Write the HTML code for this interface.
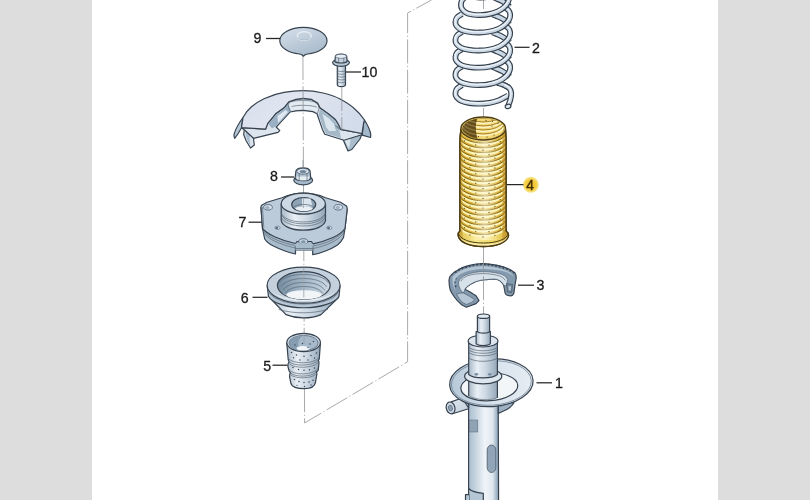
<!DOCTYPE html>
<html>
<head>
<meta charset="utf-8">
<title>Suspension strut exploded view</title>
<style>
html,body{margin:0;padding:0;background:#fff;}
body{width:810px;height:500px;overflow:hidden;position:relative;font-family:"Liberation Sans",sans-serif;}
.bar{position:absolute;top:0;height:500px;background:#dddddd;}
#bl{left:0;width:92px;}
#br{left:718px;width:92px;}
svg{position:absolute;left:0;top:0;}
text{font-family:"Liberation Sans",sans-serif;font-size:14.2px;fill:#1a1a1a;stroke:#1a1a1a;stroke-width:0.3px;}
.ol{stroke:#374350;stroke-width:1.2;stroke-linejoin:round;stroke-linecap:round;}
.thin{stroke:#5a6876;stroke-width:0.7;fill:none;stroke-linecap:round;}
.ax{stroke:#909398;stroke-width:0.8;fill:none;stroke-dasharray:24 2.5 1.2 2.5;}
.ld{stroke:#262626;stroke-width:1.25;fill:none;}
</style>
</head>
<body>
<div class="bar" id="bl"></div>
<div class="bar" id="br"></div>
<svg width="810" height="500" viewBox="0 0 810 500">
<defs>
<linearGradient id="cyl" x1="0" x2="1" y1="0" y2="0">
<stop offset="0" stop-color="#a9b9c8"/><stop offset="0.3" stop-color="#e9eff5"/><stop offset="0.6" stop-color="#cbd7e2"/><stop offset="1" stop-color="#94a7b8"/>
</linearGradient>
<linearGradient id="top" x1="0" x2="1" y1="0" y2="1">
<stop offset="0" stop-color="#e2e9f1"/><stop offset="1" stop-color="#bccad8"/>
</linearGradient>
<linearGradient id="ycyl" x1="0" x2="1" y1="0" y2="0">
<stop offset="0" stop-color="#e2c24e"/><stop offset="0.35" stop-color="#f8e88e"/><stop offset="0.7" stop-color="#f2da6a"/><stop offset="1" stop-color="#d8b640"/>
</linearGradient>
<radialGradient id="hl" cx="0.5" cy="0.5" r="0.5">
<stop offset="0" stop-color="#efbe2c"/><stop offset="0.6" stop-color="#f3cc42"/><stop offset="0.85" stop-color="#f8e07a"/><stop offset="1" stop-color="#fbeeb0" stop-opacity="0"/>
</radialGradient>
<filter id="soft"><feGaussianBlur stdDeviation="0.42"/></filter>
<linearGradient id="seatg" x1="0" x2="1" y1="0" y2="0">
<stop offset="0" stop-color="#b5c7d7"/><stop offset="0.45" stop-color="#d6e1eb"/><stop offset="1" stop-color="#e6edf3"/>
</linearGradient>
<linearGradient id="capg" x1="0.2" x2="0.8" y1="0" y2="1">
<stop offset="0" stop-color="#d3dde8"/><stop offset="0.5" stop-color="#bccad8"/><stop offset="1" stop-color="#a5b8c9"/>
</linearGradient>
<linearGradient id="boothl" x1="0" x2="1" y1="0" y2="0">
<stop offset="0" stop-color="#fffbe6" stop-opacity="0"/><stop offset="0.5" stop-color="#fffbe6" stop-opacity="0.6"/><stop offset="1" stop-color="#fffbe6" stop-opacity="0"/>
</linearGradient>
<linearGradient id="shg" x1="0" x2="1" y1="0" y2="0.3">
<stop offset="0" stop-color="#d6deeb"/><stop offset="0.5" stop-color="#e1e6f1"/><stop offset="1" stop-color="#d3dcea"/>
</linearGradient>
<linearGradient id="cyl2" x1="0" x2="1" y1="0" y2="0">
<stop offset="0" stop-color="#a9bdce"/><stop offset="0.18" stop-color="#bfcedc"/><stop offset="0.55" stop-color="#f0f4f8"/><stop offset="0.8" stop-color="#dfe7ef"/><stop offset="0.93" stop-color="#a3b7c8"/><stop offset="1" stop-color="#889eb2"/>
</linearGradient>
<linearGradient id="p6in" x1="0" x2="1" y1="0" y2="0">
<stop offset="0" stop-color="#748b9f"/><stop offset="0.45" stop-color="#9fb3c4"/><stop offset="1" stop-color="#cdd9e4"/>
</linearGradient>
</defs>
<g filter="url(#soft)">

<!-- PART 9 -->
<g id="p9">
<path class="ol" stroke-width="1.3" fill="url(#capg)" d="M279.800 40.800C279.800 33.400 290.400 27.400 303.400 27.400C316.400 27.400 327 33.400 327 40.800C327 47.500 318.500 53 307.500 54L305 54.800L303.400 56.300L301.800 54.800L299.500 54C288.500 53 279.800 47.500 279.800 40.800Z"/>
<ellipse cx="304.200" cy="36" rx="7" ry="4.300" fill="none" stroke="#e4ebf2" stroke-width="1.5"/>
<path d="M297.500 37.500C299 40.500 309 40.800 311 37.500" fill="none" stroke="#9db0c1" stroke-width="0.8"/>
</g>

<!-- PART 10 -->
<g id="p10">
<path class="ol" fill="url(#cyl)" d="M337.300 63V84.500C337.300 87.300 345.500 87.300 345.500 84.500V63Z"/>
<path class="thin" stroke="#66788a" d="M337.300 70.500C339.500 72 343.500 72 345.500 70.500M337.300 73.300C339.500 74.800 343.500 74.800 345.500 73.300M337.300 76.100C339.500 77.600 343.500 77.600 345.500 76.100M337.300 78.900C339.500 80.400 343.500 80.400 345.500 78.900M337.300 81.700C339.500 83.200 343.500 83.200 345.500 81.700"/>
<ellipse class="ol" cx="341" cy="62.600" rx="8.400" ry="3.700" fill="#b9c9d7"/>
<path class="ol" fill="#c5d2de" d="M334.900 61.500L335.400 56C337 53.600 345 53.600 346.700 56L347.100 61.500C345 63.500 337 63.500 334.900 61.500Z"/>
<ellipse cx="341" cy="56.300" rx="5.500" ry="2.100" fill="#e6edf3" stroke="#55657a" stroke-width="0.6"/>
<path class="thin" d="M338.500 58V62.600M343.800 58V62.600"/>
</g>

<!-- SHIELD -->
<g id="shield">
<!-- left claw -->
<path class="ol" fill="#dbe4ed" d="M244.500 128L243.700 134.500L246 140.500L250.500 148L254.300 145L253.500 138.300L256 131Z"/>
<path d="M246.500 129L245.500 134.500L247.500 140.500L250.500 146L249.500 138L251 130Z" fill="#a7bccc"/>
<!-- right claw -->
<path class="ol" fill="#a9bdcc" d="M338 133L343.500 140.500L348 151L351.800 149.500L360 139L362.200 133Z"/>
<path d="M340 134L344.500 140L348.500 148.500C351 143 351 138 349 134Z" fill="#d9e3ec"/>
<!-- wall ring -->
<path class="ol" fill="#dce4ee" d="M241.500 127.700L265.500 129.200L267.800 123.400L275.600 113.800L284 107.800L288.800 101.800L296 99.400L303.200 98.400L311.600 99.400L317.600 103L320 107.800L328.400 113.800L335.600 119.800L339.200 125.800L340.400 129.400L362 133.500L361 135L344 140.200L324.800 134.200L322.400 129.400L317 113.800L312.800 111.600L303.200 110.400L296 110.800L290 112L276.200 127L279.800 130.600L278 132.400L253.500 138.300L244.500 130Z"/>
<!-- wall shading -->
<path d="M268.500 124L276 114.500L284.500 108.500L288 104L291 110.500L277 125.500L272 128.500Z" fill="#9bb0c2"/>
<path d="M277.500 116L285.500 110L288 112L278 123Z" fill="#dfe8f0"/>
<path d="M320 109L328 114.500L335 120.500L338.500 126.500L339.500 131L341 138L326 133.500L323.500 128.500L318.500 114.500Z" fill="#a4b8c8"/>
<path d="M322.500 114L329 118.500L334 124L336 131L329 131L326 127Z" fill="#dbe5ee"/>
<path class="thin" stroke="#5d7186" d="M289 102.500C292 101 297 100.300 303.200 100.300C309 100.300 314 101 317 103.500C319.500 105.500 319.500 109 317.500 113M289 102.500C287.500 105 288.500 109 290.500 111.500"/>
<path d="M291 103.500C295 101.800 311 101.500 316 104.500C318 106.500 318 109 316.500 111.500L312.800 109.800L303.200 108.700L296 109L291.500 110C290 108 290 105.500 291 103.500Z" fill="#e3ebf2"/>
<path class="thin" stroke="#7e93a6" d="M292 106.500C296 104.800 311 104.800 316.500 107"/>
<!-- left fin -->
<path class="ol" fill="#b7c8d7" d="M243 117.500C239 123 235.500 129 234.200 134C233.800 135.500 234 137 234.700 138.300L238.500 133L241.500 127.700Z"/>
<!-- right fin -->
<path class="ol" fill="#a3b8c8" d="M364.500 120C367 124 369.500 129 370.500 133C370.900 134.500 370.900 136 370.500 137.500L362.200 135.200L363.700 122.500Z"/>
<!-- top surface -->
<path class="ol" stroke-width="1.35" fill="url(#shg)" d="M241.500 127.700L243 117.500C245 113.500 248 109.800 251.500 106.800C255 103.800 259 101 264 98.700C270 95.900 277 93.600 284 92.400C290 91.300 297 90.600 303.200 90.600C310 90.600 317 91.600 323 93C329 94.400 335 96.300 340.500 99.200C345 101.600 350 104.500 354 108.300C358 111.700 361.500 115.500 364.500 120L363.700 122.500L362 133.500L340.400 129.400L339.200 125.800L335.600 119.800L328.400 113.800L320 107.800L317.600 103L311.600 99.400L303.200 98.400L296 99.400L288.800 101.800L284 107.800L275.600 113.800L267.800 123.400L265.500 129.200Z"/>
<path class="thin" stroke="#7d8fa0" d="M335.500 125.500C337 128 339 129 341 128.500M337 126.500L343 129.500"/>
</g>

<!-- PART 3 ring -->
<g id="p3">
<path class="ol" stroke-width="1.3" fill="#8399ad" d="M449 280.200C449 278 449.500 276.500 450.800 275.400C453 273 455 271.500 458 270C461 268 464 266.800 467.600 265.800C472 264.500 477 263.700 482 263.600C487 263.600 492 264.200 496.400 265.200C501 266.200 505 267.300 508.400 268.800C511 270 513.500 271.500 515 273C516 274.500 516.300 276 516.200 277.800L515 285L513.800 293.400C513 295 512 295.800 510.800 295.800C509 295.800 507 295.500 506 294.600C505 293.500 504.800 292.500 504.800 291L503.600 285C502.500 283 501.500 281.800 500 280.800C498 279.600 496 279.100 494 279C491.500 279 489 279.300 486.800 279.600C484.500 279.800 482.500 279.900 480.800 280.200C478 280.800 475.500 281.600 473.600 282.600C471.500 283.600 469.500 284.800 467.600 286.200C466.500 287 465.700 287.800 465.200 288.600L465.800 289.800C468 290.800 470.500 292 472.400 293.400L476 295.800L479 300.600L476 303.600L466.400 307.200L461.600 304.800C459 302.500 456.500 300 454.400 297C452.500 294.500 451 292 450.200 289.800C449.500 287 449 283.500 449 280.200Z"/>
<path d="M455 272.200C459 269.500 463 267.800 467.600 266.500C472 265.200 477 264.400 482 264.300C487 264.300 492 264.900 496.400 265.900C501 266.900 505 268 508.400 269.500C510.500 270.500 512.500 271.700 514 273" fill="none" stroke="#374350" stroke-width="2" stroke-dasharray="1.6 2.2"/>
<path d="M456 287C454 283 454.500 279 457.500 276.500" fill="none" stroke="#374350" stroke-width="1.8" stroke-dasharray="1.5 2.5"/>
<!-- top face lighter band -->
<path d="M452.500 277.500C455 273.500 460 270.500 467.600 268.300C472 267 477 266.300 482 266.200C487 266.200 492 266.700 496.400 267.700C501 268.700 505 270 508.400 271.500C511 272.800 513 274.500 513.500 276.500C511 273.500 506 271.800 500 270.500C494 269.300 488 268.800 482 269C476 269.200 470 270.200 465 272C459 274.200 455.500 277.500 454.500 281.500C454 284.500 454.500 288 456 291.500C453.500 288 452 282.500 452.500 277.500Z" fill="#b4c5d4"/>
<!-- inner wall -->
<path d="M458.500 283C459 279.500 462 276.500 467 274.500C472 272.600 477 271.800 482 271.700C488 271.600 494 272.200 499 273.500C503 274.600 506.500 276.500 507.500 279.500L506.500 286L503.600 285C502.500 283 501.500 281.800 500 280.800C498 279.600 496 279.100 494 279C491.500 279 489 279.300 486.800 279.600C484.500 279.800 482.500 279.900 480.800 280.200C478 280.800 475.500 281.600 473.600 282.600C471.500 283.600 469.500 284.800 467.600 286.200C466.500 287 465.700 287.800 465.200 288.600L463.500 293C460.500 290.500 458.500 286.500 458.500 283Z" fill="#d6e1ea" stroke="#4b5b6b" stroke-width="0.6"/>
<path class="thin" stroke="#52647a" d="M461 281C462 278.500 465 276.500 469 275.300C473 274.200 477.500 273.700 482 273.600C488 273.600 494 274.300 498.500 275.600C501.500 276.500 504 278 505 280"/>
<!-- left arm end -->
<path d="M463.500 293L470 296.500L474.500 299.500L472.500 302L466.500 304.500L462.500 302.500C460 300 458 297 456.500 294C458 293.500 461 293 463.500 293Z" fill="#b6c6d4" stroke="#445464" stroke-width="0.6"/>
<!-- right arm end detail -->
<path d="M506.500 283.500L512.500 284.500L511.800 292.500L507.500 292Z" fill="#71879b" stroke="#3f4b58" stroke-width="0.6"/>
<path d="M508.500 286L511 286.400L510.700 290.500L508.700 290.300Z" fill="#b9c9d6"/>
</g>

<!-- AXES -->
<g id="axes">
<path class="ax" d="M302.900 56L304.600 423L407.600 361.800V13L431.500 0"/>
<path class="ax" d="M341.800 87V131"/>
<path class="ax" d="M483.500 0V9M483.500 108V119M483.500 246V316"/>
</g>

<!-- PART 8 nut -->
<g id="p8">
<ellipse class="ol" stroke-width="1.4" cx="303.200" cy="180.300" rx="9.400" ry="4.500" fill="#a6b9ca"/>
<path class="ol" stroke-width="1.4" fill="#b1c2d1" d="M295 178.500L296 170.800C297.500 166.800 308.500 166.800 310 170.800L310.800 178.500C308 181.300 298 181.300 295 178.500Z"/>
<path d="M296.500 179C300 181 306.500 181 309.500 179L309 176.500H297Z" fill="#e6edf3"/>
<ellipse cx="303" cy="171.300" rx="6.200" ry="2.900" fill="#dce5ee" stroke="#46566a" stroke-width="0.8"/>
<ellipse cx="303" cy="171.600" rx="3.400" ry="1.600" fill="#71879b"/>
<path class="thin" stroke="#46566a" d="M299.200 173.800V179.500M307 173.800V179.500"/>
</g>

<!-- PART 7 mount -->
<g id="p7">
<!-- lower ring / silhouette -->
<path class="ol" stroke-width="1.3" fill="#a9bccc" d="M261 207.500L262.500 228.500L264.700 239C267 242.500 270.500 244.800 274.500 246.500C278 248.300 281.500 249.800 285 251C288.500 252.200 292 253.200 295.500 254V246.500H312.700V254.700C317 254 321.500 252.700 325.500 251C330 249.300 334 247.300 337.500 245C340 243 342 240.500 343.500 237.500L345 228.500L347.200 209Z"/>
<path class="thin" stroke="#dfe8f0" stroke-width="1.1" d="M263.800 233C266.500 236.500 270.500 239.200 275 241.300C281 244 288 246.300 295.300 248M313 248.500C319 247.500 326 245.300 332 242.300C337 239.800 341.500 236.500 344 232.500"/>
<path class="thin" stroke="#46566a" stroke-width="0.9" d="M263.300 230.800C266 234.300 270 237 274.500 239C280.500 241.800 288 244 295.300 245.500M313 246C319 245 326 243 332 240C337 237.500 341.500 234 344.500 230.300"/>
<!-- top plate -->
<path class="ol" stroke-width="1.3" fill="#bccbda" d="M261 207.500C261 206.300 261.300 205.600 261.700 205.200L267 202.200L282 197.700C290 194.500 297 193.200 303.300 193.200C310 193.200 318 194.500 325.500 197.700L340.500 202.200L346.500 206C347 207 347.200 208 347.200 209L345 228.500C342.500 232 338 235.200 333 237.500C327 240.200 320 242.500 313 243.800L311.500 241.500H297L295.500 243.500C288 242 281 239.800 274.500 236.800C270 234.700 265.500 232 262.500 228.500Z"/>
<path class="thin" stroke="#e1e9f0" d="M262.500 207.500L263.800 227.500"/>
<!-- holes -->
<ellipse cx="268" cy="207.300" rx="4.300" ry="2.700" fill="#d9e3ec" stroke="#46566a" stroke-width="0.8"/>
<ellipse cx="267.300" cy="207.600" rx="2.300" ry="1.500" fill="#9cb0c2"/>
<ellipse cx="338.300" cy="207.300" rx="4.300" ry="2.700" fill="#d9e3ec" stroke="#46566a" stroke-width="0.8"/>
<ellipse cx="337.800" cy="207.600" rx="2.300" ry="1.500" fill="#9cb0c2"/>
<ellipse cx="277.500" cy="227.800" rx="2.600" ry="1.700" fill="#dbe5ee" stroke="#55677a" stroke-width="0.6"/><ellipse cx="276.800" cy="227.900" rx="1.500" ry="1.100" fill="#556b80"/>
<ellipse cx="329.300" cy="227.800" rx="2.600" ry="1.700" fill="#dbe5ee" stroke="#55677a" stroke-width="0.6"/><ellipse cx="328.600" cy="227.900" rx="1.500" ry="1.100" fill="#556b80"/>
<ellipse cx="303.300" cy="241.500" rx="4.400" ry="2.800" fill="#c9d6e2" stroke="#46566a" stroke-width="0.8"/>
<ellipse cx="303.300" cy="241.800" rx="2.400" ry="1.500" fill="#8097ab"/>
<path d="M295.500 243.500H312.700V250.500H295.500Z" fill="#a9bccc"/><path class="thin" stroke="#46566a" stroke-width="0.8" d="M295.500 248.500H312.700M295.500 250.300H312.700"/>
<!-- hub -->
<path class="ol" stroke-width="1.2" fill="url(#cyl)" d="M281.200 204V220.500C282 226 291 230.200 303.300 230.200C316 230.200 324.500 226 325.500 220.500V204Z"/>
<path class="thin" stroke="#46566a" stroke-width="0.9" d="M281.200 213C283 218.500 292 222 303.300 222C315 222 323.500 218.500 325.500 213M281.200 217C283 222.500 292 226 303.300 226C315 226 323.500 222.500 325.500 217"/>
<path class="thin" stroke="#e6edf3" stroke-width="1" d="M281.700 214.800C283.500 220.200 292 223.800 303.300 223.800C315 223.800 323 220.200 325 214.800"/>
<ellipse class="ol" stroke-width="1.2" cx="303.300" cy="203.700" rx="22.100" ry="10.500" fill="#ccd8e4"/>
<ellipse class="ol" cx="303.700" cy="204.500" rx="12" ry="7" fill="#8ea3b6"/>
<path d="M295 208.500C298 205.500 310 205.500 313 208.500C310 212 298 212 295 208.500Z" fill="#e9eff5"/>
<path d="M302 198.500H310.500L312.500 206.500H302Z" fill="#dce5ee"/>
<path class="thin" stroke="#61758a" d="M293.500 207C296 203.500 311 203.500 314 207"/>
</g>

<!-- PART 6 bearing -->
<g id="p6">
<path class="ol" fill="url(#cyl)" d="M269.500 297.500L286 314.600C292 317 298 317.900 303.200 317.900C310 317.900 316 316.800 321 314.600L338.500 297.500Z"/>
<path class="thin" stroke="#e8eef4" stroke-width="1.2" d="M279 309.500C287 312 296 312.800 303.200 312.800C311 312.800 320 311.800 327.500 309.500"/>
<path class="ol" fill="#b6c6d5" d="M267.200 286L268.500 296.500A36.500 15.200 0 0 0 339 296.500L340 286Z"/>
<path class="thin" stroke="#e6edf3" stroke-width="1.1" d="M269.500 293.500A36 15.500 0 0 0 338 293.500"/>
<ellipse class="ol" cx="303.600" cy="285.200" rx="36.500" ry="18" fill="#c4d1dd"/>
<path d="M271 291C278 298.500 291 301.200 303.600 301.200C316 301.200 330 298.500 336.500 291C331 297 316 299.500 303.600 299.500C291 299.500 277 297 271 291Z" fill="#e6edf3"/>
<ellipse class="ol" cx="303.800" cy="285.500" rx="26.400" ry="13.800" fill="url(#p6in)"/>
<path class="thin" stroke="#5f7388" d="M279.500 282C283 277 293 274.500 303.800 274.500C315 274.500 325 277 328.500 283M281.500 286C285 281 294 278.500 303.800 278.500C314 278.500 323 281 326.500 286.500M283.500 289.500C287 284.500 295 282.500 303.800 282.500C313 282.500 321 284.500 324.500 290M285.500 293C288 288.500 296 286.500 303.800 286.500C312 286.500 319.500 288.500 322.500 293"/>
<path d="M279 289C283 296 294 299 303.800 299C314 299 325 296 329 289C325 300 283 300 279 289Z" fill="#dde6ee"/>
<ellipse cx="304" cy="294.800" rx="17.500" ry="4.600" fill="#f1f5f8"/>
</g>

<!-- PART 5 bump stop -->
<g id="p5">
<path class="ol" stroke-width="1.3" fill="url(#cyl)" d="M286.800 343L288.200 359.500C288.300 360.500 288.700 361.200 289.300 361.800C288 362.800 287.700 364.500 287.900 366.300L289 370.500C289.200 371.500 289.800 372.300 290.500 372.800C289.700 373.800 289.500 375.200 289.600 376.800L291 383.800C292 386.800 297.500 388.700 304.300 388.700C311 388.700 314.800 386.500 315.500 382.400L316.900 374C316.900 373.200 316.800 372.500 316.300 371.900C317.500 371.300 318.100 370.500 318.300 369.800L319 362.800C319 361.800 318.800 361 318.300 360.300C319 359.800 319.300 359.200 319.300 358.600L320.400 343Z"/>
<path class="thin" stroke="#36434f" stroke-width="1.4" d="M289.300 361.800C293 366.500 313 366.500 318.300 360.300M290.500 372.800C294 377.500 312 377.500 316.300 371.900"/>
<path class="thin" stroke="#e8eef4" stroke-width="1.4" d="M289.800 364.300C294 368.500 313 368.500 317.700 363M291 375C295 379 311.500 379 316 374.200"/>
<path class="thin" stroke="#8da1b4" d="M288.300 358.500C293 364.500 314 364.500 319.300 357.500M289.200 370C294 375.500 312 375.500 317.800 369"/>
<ellipse class="ol" stroke-width="1.3" cx="303.600" cy="342.500" rx="16.800" ry="9.200" fill="#cdd9e4"/>
<ellipse cx="303.600" cy="343" rx="14.600" ry="7.600" fill="#a7bacb" stroke="#4b5967" stroke-width="0.7"/>
<path d="M289.500 343C289.500 339 295.500 335.700 303 335.500C299 338 297.500 342 298.500 347.500C299 349 300 350 301 350.500C294 350 289.500 347 289.500 343Z" fill="#869cb0"/>
<ellipse cx="303" cy="348.300" rx="6.500" ry="2.300" fill="#f2f6f9"/>
<g fill="#3a4754">
<circle cx="302.500" cy="343.500" r="0.750"/><circle cx="310" cy="344" r="0.750"/><circle cx="313.500" cy="341.500" r="0.750"/><circle cx="308" cy="347.500" r="0.650"/><circle cx="295" cy="345" r="0.650"/>
<circle cx="291.500" cy="352.500" r="0.750"/><circle cx="296.500" cy="355" r="0.750"/><circle cx="304" cy="356.300" r="0.750"/><circle cx="311" cy="355.500" r="0.750"/><circle cx="316.500" cy="353" r="0.750"/>
<circle cx="293.500" cy="357.800" r="0.700"/><circle cx="300" cy="360" r="0.700"/><circle cx="308" cy="360" r="0.700"/><circle cx="314.500" cy="358" r="0.700"/>
<circle cx="293" cy="367.500" r="0.750"/><circle cx="298.500" cy="369.500" r="0.750"/><circle cx="304" cy="370.300" r="0.750"/><circle cx="309.500" cy="369.700" r="0.750"/><circle cx="314.500" cy="368" r="0.750"/>
<circle cx="294.500" cy="379.500" r="0.750"/><circle cx="299" cy="381.500" r="0.750"/><circle cx="304" cy="382.500" r="0.750"/><circle cx="309" cy="382" r="0.750"/><circle cx="313" cy="380.300" r="0.750"/>
<circle cx="297" cy="385.300" r="0.650"/><circle cx="304.500" cy="386.500" r="0.650"/><circle cx="311" cy="385" r="0.650"/>
</g>
</g>

<!-- PART 2 spring -->
<g id="p2">
<path d="M497.0 82.8C497.5 82.9 498.8 83.2 500.0 83.6C501.2 84.0 502.5 84.3 504.0 85.0C505.5 85.7 508.2 87.3 509.0 87.8" fill="none" stroke="#34404d" stroke-width="5.8" stroke-linecap="butt" stroke-linejoin="round"/><path d="M497.0 82.8C497.5 82.9 498.8 83.2 500.0 83.6C501.2 84.0 502.5 84.3 504.0 85.0C505.5 85.7 508.2 87.3 509.0 87.8" fill="none" stroke="#c9d6e3" stroke-width="3.5" stroke-linecap="butt" stroke-linejoin="round"/>
<path d="M492.4 -20.6C493.1 -20.3 494.7 -19.6 496.4 -18.9C498.1 -18.2 500.5 -17.3 502.4 -16.2C504.3 -15.1 506.6 -13.3 507.8 -12.4C509.0 -11.5 509.4 -10.9 509.7 -10.6" fill="none" stroke="#34404d" stroke-width="5.8" stroke-linecap="butt" stroke-linejoin="round"/><path d="M492.4 -20.6C493.1 -20.3 494.7 -19.6 496.4 -18.9C498.1 -18.2 500.5 -17.3 502.4 -16.2C504.3 -15.1 506.6 -13.3 507.8 -12.4C509.0 -11.5 509.4 -10.9 509.7 -10.6" fill="none" stroke="#c9d6e3" stroke-width="3.5" stroke-linecap="butt" stroke-linejoin="round"/>
<path d="M492.4 -3.1C493.1 -2.8 494.7 -2.1 496.4 -1.4C498.1 -0.7 500.5 0.2 502.4 1.3C504.3 2.4 506.6 4.2 507.8 5.1C509.0 6.0 509.4 6.6 509.7 6.9" fill="none" stroke="#34404d" stroke-width="5.8" stroke-linecap="butt" stroke-linejoin="round"/><path d="M492.4 -3.1C493.1 -2.8 494.7 -2.1 496.4 -1.4C498.1 -0.7 500.5 0.2 502.4 1.3C504.3 2.4 506.6 4.2 507.8 5.1C509.0 6.0 509.4 6.6 509.7 6.9" fill="none" stroke="#c9d6e3" stroke-width="3.5" stroke-linecap="butt" stroke-linejoin="round"/>
<path d="M492.4 14.3C493.1 14.6 494.7 15.3 496.4 16.0C498.1 16.7 500.5 17.6 502.4 18.7C504.3 19.8 506.6 21.6 507.8 22.5C509.0 23.4 509.4 24.0 509.7 24.3" fill="none" stroke="#34404d" stroke-width="5.8" stroke-linecap="butt" stroke-linejoin="round"/><path d="M492.4 14.3C493.1 14.6 494.7 15.3 496.4 16.0C498.1 16.7 500.5 17.6 502.4 18.7C504.3 19.8 506.6 21.6 507.8 22.5C509.0 23.4 509.4 24.0 509.7 24.3" fill="none" stroke="#c9d6e3" stroke-width="3.5" stroke-linecap="butt" stroke-linejoin="round"/>
<path d="M492.4 32.3C493.1 32.6 494.7 33.3 496.4 34.0C498.1 34.7 500.5 35.6 502.4 36.7C504.3 37.8 506.6 39.6 507.8 40.5C509.0 41.4 509.4 42.0 509.7 42.3" fill="none" stroke="#34404d" stroke-width="5.8" stroke-linecap="butt" stroke-linejoin="round"/><path d="M492.4 32.3C493.1 32.6 494.7 33.3 496.4 34.0C498.1 34.7 500.5 35.6 502.4 36.7C504.3 37.8 506.6 39.6 507.8 40.5C509.0 41.4 509.4 42.0 509.7 42.3" fill="none" stroke="#c9d6e3" stroke-width="3.5" stroke-linecap="butt" stroke-linejoin="round"/>
<path d="M492.4 49.5C493.1 49.8 494.7 50.5 496.4 51.2C498.1 51.9 500.5 52.8 502.4 53.9C504.3 55.0 506.6 56.8 507.8 57.7C509.0 58.6 509.4 59.2 509.7 59.5" fill="none" stroke="#34404d" stroke-width="5.8" stroke-linecap="butt" stroke-linejoin="round"/><path d="M492.4 49.5C493.1 49.8 494.7 50.5 496.4 51.2C498.1 51.9 500.5 52.8 502.4 53.9C504.3 55.0 506.6 56.8 507.8 57.7C509.0 58.6 509.4 59.2 509.7 59.5" fill="none" stroke="#c9d6e3" stroke-width="3.5" stroke-linecap="butt" stroke-linejoin="round"/>
<path d="M492.4 66.9C493.1 67.2 494.7 67.9 496.4 68.6C498.1 69.3 500.5 70.2 502.4 71.3C504.3 72.4 506.6 74.2 507.8 75.1C509.0 76.0 509.4 76.6 509.7 76.9" fill="none" stroke="#34404d" stroke-width="5.8" stroke-linecap="butt" stroke-linejoin="round"/><path d="M492.4 66.9C493.1 67.2 494.7 67.9 496.4 68.6C498.1 69.3 500.5 70.2 502.4 71.3C504.3 72.4 506.6 74.2 507.8 75.1C509.0 76.0 509.4 76.6 509.7 76.9" fill="none" stroke="#c9d6e3" stroke-width="3.5" stroke-linecap="butt" stroke-linejoin="round"/>
<path d="M462.0 85.2C461.2 85.8 458.1 87.4 457.0 88.7C455.9 90.0 455.5 91.7 455.4 93.1C455.3 94.5 455.6 96.0 456.6 97.3C457.6 98.6 459.3 100.0 461.4 101.0C463.5 102.0 466.4 102.6 469.4 103.1C472.4 103.5 476.1 103.7 479.4 103.7C482.7 103.7 486.2 103.4 489.4 102.9C492.6 102.4 495.8 101.4 498.4 100.5C501.0 99.6 503.3 98.1 504.9 97.3C506.5 96.5 507.4 95.8 507.9 95.5" fill="none" stroke="#34404d" stroke-width="5.8" stroke-linecap="butt" stroke-linejoin="round"/><path d="M462.0 85.2C461.2 85.8 458.1 87.4 457.0 88.7C455.9 90.0 455.5 91.7 455.4 93.1C455.3 94.5 455.6 96.0 456.6 97.3C457.6 98.6 459.3 100.0 461.4 101.0C463.5 102.0 466.4 102.6 469.4 103.1C472.4 103.5 476.1 103.7 479.4 103.7C482.7 103.7 486.2 103.4 489.4 102.9C492.6 102.4 495.8 101.4 498.4 100.5C501.0 99.6 503.3 98.1 504.9 97.3C506.5 96.5 507.4 95.8 507.9 95.5" fill="none" stroke="#c9d6e3" stroke-width="3.5" stroke-linecap="butt" stroke-linejoin="round"/><path d="M462.0 85.2C461.2 85.8 458.1 87.4 457.0 88.7C455.9 90.0 455.5 91.7 455.4 93.1C455.3 94.5 455.6 96.0 456.6 97.3C457.6 98.6 459.3 100.0 461.4 101.0C463.5 102.0 466.4 102.6 469.4 103.1C472.4 103.5 476.1 103.7 479.4 103.7C482.7 103.7 486.2 103.4 489.4 102.9C492.6 102.4 495.8 101.4 498.4 100.5C501.0 99.6 503.3 98.1 504.9 97.3C506.5 96.5 507.4 95.8 507.9 95.5" fill="none" stroke="#edf2f7" stroke-width="1.3" stroke-linecap="butt" transform="translate(-0.3 -0.7)"/>
<path d="M462.0 66.6C461.2 67.2 458.1 68.8 457.0 70.1C455.9 71.4 455.5 73.1 455.4 74.5C455.3 75.9 455.6 77.4 456.6 78.7C457.6 80.0 459.3 81.4 461.4 82.4C463.5 83.4 466.4 84.0 469.4 84.5C472.4 85.0 476.1 85.2 479.4 85.1C482.7 85.0 486.2 84.7 489.4 84.1C492.6 83.5 495.8 82.5 498.4 81.4C501.0 80.3 503.1 78.8 504.9 77.3C506.7 75.8 508.1 74.0 509.0 72.3C509.9 70.6 510.3 68.7 510.2 67.1C510.1 65.5 509.6 64.0 508.4 62.7C507.2 61.4 503.9 59.7 503.0 59.1" fill="none" stroke="#34404d" stroke-width="5.8" stroke-linecap="butt" stroke-linejoin="round"/><path d="M462.0 66.6C461.2 67.2 458.1 68.8 457.0 70.1C455.9 71.4 455.5 73.1 455.4 74.5C455.3 75.9 455.6 77.4 456.6 78.7C457.6 80.0 459.3 81.4 461.4 82.4C463.5 83.4 466.4 84.0 469.4 84.5C472.4 85.0 476.1 85.2 479.4 85.1C482.7 85.0 486.2 84.7 489.4 84.1C492.6 83.5 495.8 82.5 498.4 81.4C501.0 80.3 503.1 78.8 504.9 77.3C506.7 75.8 508.1 74.0 509.0 72.3C509.9 70.6 510.3 68.7 510.2 67.1C510.1 65.5 509.6 64.0 508.4 62.7C507.2 61.4 503.9 59.7 503.0 59.1" fill="none" stroke="#c9d6e3" stroke-width="3.5" stroke-linecap="butt" stroke-linejoin="round"/><path d="M462.0 66.6C461.2 67.2 458.1 68.8 457.0 70.1C455.9 71.4 455.5 73.1 455.4 74.5C455.3 75.9 455.6 77.4 456.6 78.7C457.6 80.0 459.3 81.4 461.4 82.4C463.5 83.4 466.4 84.0 469.4 84.5C472.4 85.0 476.1 85.2 479.4 85.1C482.7 85.0 486.2 84.7 489.4 84.1C492.6 83.5 495.8 82.5 498.4 81.4C501.0 80.3 503.1 78.8 504.9 77.3C506.7 75.8 508.1 74.0 509.0 72.3C509.9 70.6 510.3 68.7 510.2 67.1C510.1 65.5 509.6 64.0 508.4 62.7C507.2 61.4 503.9 59.7 503.0 59.1" fill="none" stroke="#edf2f7" stroke-width="1.3" stroke-linecap="butt" transform="translate(-0.3 -0.7)"/>
<path d="M462.0 49.2C461.2 49.8 458.1 51.4 457.0 52.7C455.9 54.0 455.5 55.7 455.4 57.1C455.3 58.5 455.6 60.0 456.6 61.3C457.6 62.6 459.3 64.0 461.4 65.0C463.5 66.0 466.4 66.6 469.4 67.1C472.4 67.5 476.1 67.8 479.4 67.7C482.7 67.6 486.2 67.3 489.4 66.7C492.6 66.1 495.8 65.1 498.4 64.0C501.0 62.9 503.1 61.4 504.9 59.9C506.7 58.4 508.1 56.6 509.0 54.9C509.9 53.2 510.3 51.3 510.2 49.7C510.1 48.1 509.6 46.6 508.4 45.3C507.2 44.0 503.9 42.3 503.0 41.7" fill="none" stroke="#34404d" stroke-width="5.8" stroke-linecap="butt" stroke-linejoin="round"/><path d="M462.0 49.2C461.2 49.8 458.1 51.4 457.0 52.7C455.9 54.0 455.5 55.7 455.4 57.1C455.3 58.5 455.6 60.0 456.6 61.3C457.6 62.6 459.3 64.0 461.4 65.0C463.5 66.0 466.4 66.6 469.4 67.1C472.4 67.5 476.1 67.8 479.4 67.7C482.7 67.6 486.2 67.3 489.4 66.7C492.6 66.1 495.8 65.1 498.4 64.0C501.0 62.9 503.1 61.4 504.9 59.9C506.7 58.4 508.1 56.6 509.0 54.9C509.9 53.2 510.3 51.3 510.2 49.7C510.1 48.1 509.6 46.6 508.4 45.3C507.2 44.0 503.9 42.3 503.0 41.7" fill="none" stroke="#c9d6e3" stroke-width="3.5" stroke-linecap="butt" stroke-linejoin="round"/><path d="M462.0 49.2C461.2 49.8 458.1 51.4 457.0 52.7C455.9 54.0 455.5 55.7 455.4 57.1C455.3 58.5 455.6 60.0 456.6 61.3C457.6 62.6 459.3 64.0 461.4 65.0C463.5 66.0 466.4 66.6 469.4 67.1C472.4 67.5 476.1 67.8 479.4 67.7C482.7 67.6 486.2 67.3 489.4 66.7C492.6 66.1 495.8 65.1 498.4 64.0C501.0 62.9 503.1 61.4 504.9 59.9C506.7 58.4 508.1 56.6 509.0 54.9C509.9 53.2 510.3 51.3 510.2 49.7C510.1 48.1 509.6 46.6 508.4 45.3C507.2 44.0 503.9 42.3 503.0 41.7" fill="none" stroke="#edf2f7" stroke-width="1.3" stroke-linecap="butt" transform="translate(-0.3 -0.7)"/>
<path d="M462.0 32.0C461.2 32.6 458.1 34.2 457.0 35.5C455.9 36.8 455.5 38.5 455.4 39.9C455.3 41.3 455.6 42.8 456.6 44.1C457.6 45.4 459.3 46.8 461.4 47.8C463.5 48.8 466.4 49.4 469.4 49.9C472.4 50.4 476.1 50.6 479.4 50.5C482.7 50.4 486.2 50.1 489.4 49.5C492.6 48.9 495.8 47.9 498.4 46.8C501.0 45.7 503.1 44.2 504.9 42.7C506.7 41.2 508.1 39.4 509.0 37.7C509.9 36.0 510.3 34.1 510.2 32.5C510.1 30.9 509.6 29.4 508.4 28.1C507.2 26.8 503.9 25.1 503.0 24.5" fill="none" stroke="#34404d" stroke-width="5.8" stroke-linecap="butt" stroke-linejoin="round"/><path d="M462.0 32.0C461.2 32.6 458.1 34.2 457.0 35.5C455.9 36.8 455.5 38.5 455.4 39.9C455.3 41.3 455.6 42.8 456.6 44.1C457.6 45.4 459.3 46.8 461.4 47.8C463.5 48.8 466.4 49.4 469.4 49.9C472.4 50.4 476.1 50.6 479.4 50.5C482.7 50.4 486.2 50.1 489.4 49.5C492.6 48.9 495.8 47.9 498.4 46.8C501.0 45.7 503.1 44.2 504.9 42.7C506.7 41.2 508.1 39.4 509.0 37.7C509.9 36.0 510.3 34.1 510.2 32.5C510.1 30.9 509.6 29.4 508.4 28.1C507.2 26.8 503.9 25.1 503.0 24.5" fill="none" stroke="#c9d6e3" stroke-width="3.5" stroke-linecap="butt" stroke-linejoin="round"/><path d="M462.0 32.0C461.2 32.6 458.1 34.2 457.0 35.5C455.9 36.8 455.5 38.5 455.4 39.9C455.3 41.3 455.6 42.8 456.6 44.1C457.6 45.4 459.3 46.8 461.4 47.8C463.5 48.8 466.4 49.4 469.4 49.9C472.4 50.4 476.1 50.6 479.4 50.5C482.7 50.4 486.2 50.1 489.4 49.5C492.6 48.9 495.8 47.9 498.4 46.8C501.0 45.7 503.1 44.2 504.9 42.7C506.7 41.2 508.1 39.4 509.0 37.7C509.9 36.0 510.3 34.1 510.2 32.5C510.1 30.9 509.6 29.4 508.4 28.1C507.2 26.8 503.9 25.1 503.0 24.5" fill="none" stroke="#edf2f7" stroke-width="1.3" stroke-linecap="butt" transform="translate(-0.3 -0.7)"/>
<path d="M462.0 14.0C461.2 14.6 458.1 16.2 457.0 17.5C455.9 18.8 455.5 20.5 455.4 21.9C455.3 23.3 455.6 24.8 456.6 26.1C457.6 27.4 459.3 28.8 461.4 29.8C463.5 30.8 466.4 31.4 469.4 31.9C472.4 32.4 476.1 32.6 479.4 32.5C482.7 32.4 486.2 32.1 489.4 31.5C492.6 30.9 495.8 29.9 498.4 28.8C501.0 27.7 503.1 26.2 504.9 24.7C506.7 23.2 508.1 21.4 509.0 19.7C509.9 18.0 510.3 16.1 510.2 14.5C510.1 12.9 509.6 11.4 508.4 10.1C507.2 8.8 503.9 7.1 503.0 6.5" fill="none" stroke="#34404d" stroke-width="5.8" stroke-linecap="butt" stroke-linejoin="round"/><path d="M462.0 14.0C461.2 14.6 458.1 16.2 457.0 17.5C455.9 18.8 455.5 20.5 455.4 21.9C455.3 23.3 455.6 24.8 456.6 26.1C457.6 27.4 459.3 28.8 461.4 29.8C463.5 30.8 466.4 31.4 469.4 31.9C472.4 32.4 476.1 32.6 479.4 32.5C482.7 32.4 486.2 32.1 489.4 31.5C492.6 30.9 495.8 29.9 498.4 28.8C501.0 27.7 503.1 26.2 504.9 24.7C506.7 23.2 508.1 21.4 509.0 19.7C509.9 18.0 510.3 16.1 510.2 14.5C510.1 12.9 509.6 11.4 508.4 10.1C507.2 8.8 503.9 7.1 503.0 6.5" fill="none" stroke="#c9d6e3" stroke-width="3.5" stroke-linecap="butt" stroke-linejoin="round"/><path d="M462.0 14.0C461.2 14.6 458.1 16.2 457.0 17.5C455.9 18.8 455.5 20.5 455.4 21.9C455.3 23.3 455.6 24.8 456.6 26.1C457.6 27.4 459.3 28.8 461.4 29.8C463.5 30.8 466.4 31.4 469.4 31.9C472.4 32.4 476.1 32.6 479.4 32.5C482.7 32.4 486.2 32.1 489.4 31.5C492.6 30.9 495.8 29.9 498.4 28.8C501.0 27.7 503.1 26.2 504.9 24.7C506.7 23.2 508.1 21.4 509.0 19.7C509.9 18.0 510.3 16.1 510.2 14.5C510.1 12.9 509.6 11.4 508.4 10.1C507.2 8.8 503.9 7.1 503.0 6.5" fill="none" stroke="#edf2f7" stroke-width="1.3" stroke-linecap="butt" transform="translate(-0.3 -0.7)"/>
<path d="M466.2 -3.4C465.5 -2.8 463.1 -1.2 462.2 0.1C461.3 1.4 461.0 3.1 460.9 4.5C460.9 5.9 461.1 7.4 461.9 8.7C462.7 10.0 464.0 11.4 465.7 12.4C467.4 13.4 469.7 14.1 472.1 14.5C474.5 14.9 477.3 15.2 480.1 15.1C483.0 15.0 486.2 14.7 489.1 14.1C492.1 13.5 495.3 12.5 497.8 11.4C500.3 10.3 502.3 8.8 504.0 7.3C505.7 5.8 507.1 4.0 508.0 2.3C508.8 0.6 509.2 -1.3 509.1 -2.9C509.0 -4.5 508.5 -6.0 507.4 -7.3C506.2 -8.6 503.1 -10.3 502.2 -10.9" fill="none" stroke="#34404d" stroke-width="5.8" stroke-linecap="butt" stroke-linejoin="round"/><path d="M466.2 -3.4C465.5 -2.8 463.1 -1.2 462.2 0.1C461.3 1.4 461.0 3.1 460.9 4.5C460.9 5.9 461.1 7.4 461.9 8.7C462.7 10.0 464.0 11.4 465.7 12.4C467.4 13.4 469.7 14.1 472.1 14.5C474.5 14.9 477.3 15.2 480.1 15.1C483.0 15.0 486.2 14.7 489.1 14.1C492.1 13.5 495.3 12.5 497.8 11.4C500.3 10.3 502.3 8.8 504.0 7.3C505.7 5.8 507.1 4.0 508.0 2.3C508.8 0.6 509.2 -1.3 509.1 -2.9C509.0 -4.5 508.5 -6.0 507.4 -7.3C506.2 -8.6 503.1 -10.3 502.2 -10.9" fill="none" stroke="#c9d6e3" stroke-width="3.5" stroke-linecap="butt" stroke-linejoin="round"/><path d="M466.2 -3.4C465.5 -2.8 463.1 -1.2 462.2 0.1C461.3 1.4 461.0 3.1 460.9 4.5C460.9 5.9 461.1 7.4 461.9 8.7C462.7 10.0 464.0 11.4 465.7 12.4C467.4 13.4 469.7 14.1 472.1 14.5C474.5 14.9 477.3 15.2 480.1 15.1C483.0 15.0 486.2 14.7 489.1 14.1C492.1 13.5 495.3 12.5 497.8 11.4C500.3 10.3 502.3 8.8 504.0 7.3C505.7 5.8 507.1 4.0 508.0 2.3C508.8 0.6 509.2 -1.3 509.1 -2.9C509.0 -4.5 508.5 -6.0 507.4 -7.3C506.2 -8.6 503.1 -10.3 502.2 -10.9" fill="none" stroke="#edf2f7" stroke-width="1.3" stroke-linecap="butt" transform="translate(-0.3 -0.7)"/>
<path d="M470.0 -20.9C469.5 -20.3 467.6 -18.7 466.9 -17.4C466.2 -16.1 465.9 -14.4 465.9 -13.0C465.8 -11.6 466.0 -10.1 466.6 -8.8C467.3 -7.5 468.3 -6.1 469.6 -5.1C470.9 -4.1 472.7 -3.4 474.6 -3.0C476.4 -2.6 478.5 -2.3 480.8 -2.4C483.1 -2.5 485.9 -2.8 488.4 -3.4C491.0 -4.0 493.9 -5.0 496.1 -6.1C498.3 -7.2 500.1 -8.7 501.6 -10.2C503.1 -11.7 504.3 -13.5 505.1 -15.2C505.9 -16.9 506.2 -18.8 506.1 -20.4C506.0 -22.0 505.6 -23.5 504.6 -24.8C503.6 -26.1 500.8 -27.8 500.0 -28.4" fill="none" stroke="#34404d" stroke-width="5.8" stroke-linecap="butt" stroke-linejoin="round"/><path d="M470.0 -20.9C469.5 -20.3 467.6 -18.7 466.9 -17.4C466.2 -16.1 465.9 -14.4 465.9 -13.0C465.8 -11.6 466.0 -10.1 466.6 -8.8C467.3 -7.5 468.3 -6.1 469.6 -5.1C470.9 -4.1 472.7 -3.4 474.6 -3.0C476.4 -2.6 478.5 -2.3 480.8 -2.4C483.1 -2.5 485.9 -2.8 488.4 -3.4C491.0 -4.0 493.9 -5.0 496.1 -6.1C498.3 -7.2 500.1 -8.7 501.6 -10.2C503.1 -11.7 504.3 -13.5 505.1 -15.2C505.9 -16.9 506.2 -18.8 506.1 -20.4C506.0 -22.0 505.6 -23.5 504.6 -24.8C503.6 -26.1 500.8 -27.8 500.0 -28.4" fill="none" stroke="#c9d6e3" stroke-width="3.5" stroke-linecap="butt" stroke-linejoin="round"/><path d="M470.0 -20.9C469.5 -20.3 467.6 -18.7 466.9 -17.4C466.2 -16.1 465.9 -14.4 465.9 -13.0C465.8 -11.6 466.0 -10.1 466.6 -8.8C467.3 -7.5 468.3 -6.1 469.6 -5.1C470.9 -4.1 472.7 -3.4 474.6 -3.0C476.4 -2.6 478.5 -2.3 480.8 -2.4C483.1 -2.5 485.9 -2.8 488.4 -3.4C491.0 -4.0 493.9 -5.0 496.1 -6.1C498.3 -7.2 500.1 -8.7 501.6 -10.2C503.1 -11.7 504.3 -13.5 505.1 -15.2C505.9 -16.9 506.2 -18.8 506.1 -20.4C506.0 -22.0 505.6 -23.5 504.6 -24.8C503.6 -26.1 500.8 -27.8 500.0 -28.4" fill="none" stroke="#edf2f7" stroke-width="1.3" stroke-linecap="butt" transform="translate(-0.3 -0.7)"/>
<path d="M504.0 85.0C504.8 85.5 507.8 86.5 509.0 87.8C510.2 89.1 511.0 90.8 511.2 92.8C511.4 94.8 510.9 97.5 510.4 99.6C509.9 101.7 508.6 104.4 508.3 105.4" fill="none" stroke="#34404d" stroke-width="5.8" stroke-linecap="butt" stroke-linejoin="round"/><path d="M504.0 85.0C504.8 85.5 507.8 86.5 509.0 87.8C510.2 89.1 511.0 90.8 511.2 92.8C511.4 94.8 510.9 97.5 510.4 99.6C509.9 101.7 508.6 104.4 508.3 105.4" fill="none" stroke="#c9d6e3" stroke-width="3.5" stroke-linecap="butt" stroke-linejoin="round"/><path d="M504.0 85.0C504.8 85.5 507.8 86.5 509.0 87.8C510.2 89.1 511.0 90.8 511.2 92.8C511.4 94.8 510.9 97.5 510.4 99.6C509.9 101.7 508.6 104.4 508.3 105.4" fill="none" stroke="#edf2f7" stroke-width="1.3" stroke-linecap="butt" transform="translate(-0.3 -0.7)"/>
<ellipse cx="508.0" cy="106.4" rx="2.9" ry="2.1" fill="#dfe7ef" stroke="#34404d" stroke-width="1.1" transform="rotate(-15 508.0 106.4)"/>
</g>

<!-- END P2 -->

<!-- PART 4 boot -->
<g id="p4">
<clipPath id="bootclip"><path d="M461 129.500C460.300 134 459.900 138 459.900 142.500V231C458.600 232 458 233.500 458.200 235.500C459.400 242.500 470 246.500 483.300 246.500C497 246.500 507.400 242.500 508.500 235.500C508.600 233.500 507.600 232 506.100 231V142.500C506.100 138 505.800 134 505.500 129.500Z"/></clipPath>
<path d="M461 129.500C460.300 134 459.900 138 459.900 142.500V231C458.600 232 458 233.500 458.200 235.500C459.400 242.500 470 246.500 483.300 246.500C497 246.500 507.400 242.500 508.500 235.500C508.600 233.500 507.600 232 506.100 231V142.500C506.100 138 505.800 134 505.500 129.500Z" fill="url(#ycyl)" stroke="#4e3d12" stroke-width="1.4" stroke-linejoin="round"/>
<g clip-path="url(#bootclip)">
<path d="M459.1 130.0A23.9 12.0 0 0 0 506.9 130.0" fill="none" stroke="#d6ab35" stroke-width="1.7" opacity="0.9"/>
<path d="M459.1 132.7A23.9 12.0 0 0 0 506.9 132.7" fill="none" stroke="#fbf2b4" stroke-width="2.0"/>
<path d="M459.1 131.0A23.9 12.0 0 0 0 506.9 131.0" fill="none" stroke="#7c6113" stroke-width="1.0"/>
<path d="M459.1 134.8A23.9 12.0 0 0 0 506.9 134.8" fill="none" stroke="#d6ab35" stroke-width="1.7" opacity="0.9"/>
<path d="M459.1 137.5A23.9 12.0 0 0 0 506.9 137.5" fill="none" stroke="#fbf2b4" stroke-width="2.0"/>
<path d="M459.1 135.8A23.9 12.0 0 0 0 506.9 135.8" fill="none" stroke="#7c6113" stroke-width="1.0"/>
<path d="M459.1 139.6A23.9 12.0 0 0 0 506.9 139.6" fill="none" stroke="#d6ab35" stroke-width="1.7" opacity="0.9"/>
<path d="M459.1 142.3A23.9 12.0 0 0 0 506.9 142.3" fill="none" stroke="#fbf2b4" stroke-width="2.0"/>
<path d="M459.1 140.6A23.9 12.0 0 0 0 506.9 140.6" fill="none" stroke="#7c6113" stroke-width="1.0"/>
<path d="M459.1 144.4A23.9 12.0 0 0 0 506.9 144.4" fill="none" stroke="#d6ab35" stroke-width="1.7" opacity="0.9"/>
<path d="M459.1 147.1A23.9 12.0 0 0 0 506.9 147.1" fill="none" stroke="#fbf2b4" stroke-width="2.0"/>
<path d="M459.1 145.4A23.9 12.0 0 0 0 506.9 145.4" fill="none" stroke="#7c6113" stroke-width="1.0"/>
<path d="M459.1 149.3A23.9 12.0 0 0 0 506.9 149.3" fill="none" stroke="#d6ab35" stroke-width="1.7" opacity="0.9"/>
<path d="M459.1 152.0A23.9 12.0 0 0 0 506.9 152.0" fill="none" stroke="#fbf2b4" stroke-width="2.0"/>
<path d="M459.1 150.3A23.9 12.0 0 0 0 506.9 150.3" fill="none" stroke="#7c6113" stroke-width="1.0"/>
<path d="M459.1 154.1A23.9 12.0 0 0 0 506.9 154.1" fill="none" stroke="#d6ab35" stroke-width="1.7" opacity="0.9"/>
<path d="M459.1 156.8A23.9 12.0 0 0 0 506.9 156.8" fill="none" stroke="#fbf2b4" stroke-width="2.0"/>
<path d="M459.1 155.1A23.9 12.0 0 0 0 506.9 155.1" fill="none" stroke="#7c6113" stroke-width="1.0"/>
<path d="M459.1 158.9A23.9 12.0 0 0 0 506.9 158.9" fill="none" stroke="#d6ab35" stroke-width="1.7" opacity="0.9"/>
<path d="M459.1 161.6A23.9 12.0 0 0 0 506.9 161.6" fill="none" stroke="#fbf2b4" stroke-width="2.0"/>
<path d="M459.1 159.9A23.9 12.0 0 0 0 506.9 159.9" fill="none" stroke="#7c6113" stroke-width="1.0"/>
<path d="M459.1 163.7A23.9 12.0 0 0 0 506.9 163.7" fill="none" stroke="#d6ab35" stroke-width="1.7" opacity="0.9"/>
<path d="M459.1 166.4A23.9 12.0 0 0 0 506.9 166.4" fill="none" stroke="#fbf2b4" stroke-width="2.0"/>
<path d="M459.1 164.7A23.9 12.0 0 0 0 506.9 164.7" fill="none" stroke="#7c6113" stroke-width="1.0"/>
<path d="M459.1 168.5A23.9 12.0 0 0 0 506.9 168.5" fill="none" stroke="#d6ab35" stroke-width="1.7" opacity="0.9"/>
<path d="M459.1 171.2A23.9 12.0 0 0 0 506.9 171.2" fill="none" stroke="#fbf2b4" stroke-width="2.0"/>
<path d="M459.1 169.5A23.9 12.0 0 0 0 506.9 169.5" fill="none" stroke="#7c6113" stroke-width="1.0"/>
<path d="M459.1 173.3A23.9 12.0 0 0 0 506.9 173.3" fill="none" stroke="#d6ab35" stroke-width="1.7" opacity="0.9"/>
<path d="M459.1 176.0A23.9 12.0 0 0 0 506.9 176.0" fill="none" stroke="#fbf2b4" stroke-width="2.0"/>
<path d="M459.1 174.3A23.9 12.0 0 0 0 506.9 174.3" fill="none" stroke="#7c6113" stroke-width="1.0"/>
<path d="M459.1 178.2A23.9 12.0 0 0 0 506.9 178.2" fill="none" stroke="#d6ab35" stroke-width="1.7" opacity="0.9"/>
<path d="M459.1 180.9A23.9 12.0 0 0 0 506.9 180.9" fill="none" stroke="#fbf2b4" stroke-width="2.0"/>
<path d="M459.1 179.2A23.9 12.0 0 0 0 506.9 179.2" fill="none" stroke="#7c6113" stroke-width="1.0"/>
<path d="M459.1 183.0A23.9 12.0 0 0 0 506.9 183.0" fill="none" stroke="#d6ab35" stroke-width="1.7" opacity="0.9"/>
<path d="M459.1 185.7A23.9 12.0 0 0 0 506.9 185.7" fill="none" stroke="#fbf2b4" stroke-width="2.0"/>
<path d="M459.1 184.0A23.9 12.0 0 0 0 506.9 184.0" fill="none" stroke="#7c6113" stroke-width="1.0"/>
<path d="M459.1 187.8A23.9 12.0 0 0 0 506.9 187.8" fill="none" stroke="#d6ab35" stroke-width="1.7" opacity="0.9"/>
<path d="M459.1 190.5A23.9 12.0 0 0 0 506.9 190.5" fill="none" stroke="#fbf2b4" stroke-width="2.0"/>
<path d="M459.1 188.8A23.9 12.0 0 0 0 506.9 188.8" fill="none" stroke="#7c6113" stroke-width="1.0"/>
<path d="M459.1 192.6A23.9 12.0 0 0 0 506.9 192.6" fill="none" stroke="#d6ab35" stroke-width="1.7" opacity="0.9"/>
<path d="M459.1 195.3A23.9 12.0 0 0 0 506.9 195.3" fill="none" stroke="#fbf2b4" stroke-width="2.0"/>
<path d="M459.1 193.6A23.9 12.0 0 0 0 506.9 193.6" fill="none" stroke="#7c6113" stroke-width="1.0"/>
<path d="M459.1 197.4A23.9 12.0 0 0 0 506.9 197.4" fill="none" stroke="#d6ab35" stroke-width="1.7" opacity="0.9"/>
<path d="M459.1 200.1A23.9 12.0 0 0 0 506.9 200.1" fill="none" stroke="#fbf2b4" stroke-width="2.0"/>
<path d="M459.1 198.4A23.9 12.0 0 0 0 506.9 198.4" fill="none" stroke="#7c6113" stroke-width="1.0"/>
<path d="M459.1 202.2A23.9 12.0 0 0 0 506.9 202.2" fill="none" stroke="#d6ab35" stroke-width="1.7" opacity="0.9"/>
<path d="M459.1 204.9A23.9 12.0 0 0 0 506.9 204.9" fill="none" stroke="#fbf2b4" stroke-width="2.0"/>
<path d="M459.1 203.2A23.9 12.0 0 0 0 506.9 203.2" fill="none" stroke="#7c6113" stroke-width="1.0"/>
<path d="M459.1 207.1A23.9 12.0 0 0 0 506.9 207.1" fill="none" stroke="#d6ab35" stroke-width="1.7" opacity="0.9"/>
<path d="M459.1 209.8A23.9 12.0 0 0 0 506.9 209.8" fill="none" stroke="#fbf2b4" stroke-width="2.0"/>
<path d="M459.1 208.1A23.9 12.0 0 0 0 506.9 208.1" fill="none" stroke="#7c6113" stroke-width="1.0"/>
<path d="M459.1 211.9A23.9 12.0 0 0 0 506.9 211.9" fill="none" stroke="#d6ab35" stroke-width="1.7" opacity="0.9"/>
<path d="M459.1 214.6A23.9 12.0 0 0 0 506.9 214.6" fill="none" stroke="#fbf2b4" stroke-width="2.0"/>
<path d="M459.1 212.9A23.9 12.0 0 0 0 506.9 212.9" fill="none" stroke="#7c6113" stroke-width="1.0"/>
<path d="M459.1 216.7A23.9 12.0 0 0 0 506.9 216.7" fill="none" stroke="#d6ab35" stroke-width="1.7" opacity="0.9"/>
<path d="M459.1 219.4A23.9 12.0 0 0 0 506.9 219.4" fill="none" stroke="#fbf2b4" stroke-width="2.0"/>
<path d="M459.1 217.7A23.9 12.0 0 0 0 506.9 217.7" fill="none" stroke="#7c6113" stroke-width="1.0"/>
<path d="M459.1 221.5A23.9 12.0 0 0 0 506.9 221.5" fill="none" stroke="#d6ab35" stroke-width="1.7" opacity="0.9"/>
<path d="M459.1 224.2A23.9 12.0 0 0 0 506.9 224.2" fill="none" stroke="#fbf2b4" stroke-width="2.0"/>
<path d="M459.1 222.5A23.9 12.0 0 0 0 506.9 222.5" fill="none" stroke="#7c6113" stroke-width="1.0"/>
<rect x="470" y="140" width="30" height="100" fill="url(#boothl)"/>
<circle cx="464.4" cy="140.9" r="0.6" fill="#5e4712"/>
<circle cx="475.8" cy="144.8" r="0.6" fill="#5e4712"/>
<circle cx="489.0" cy="145.0" r="0.6" fill="#5e4712"/>
<circle cx="500.2" cy="141.7" r="0.6" fill="#5e4712"/>
<circle cx="469.9" cy="148.2" r="0.6" fill="#5e4712"/>
<circle cx="483.0" cy="150.2" r="0.6" fill="#5e4712"/>
<circle cx="494.9" cy="148.6" r="0.6" fill="#5e4712"/>
<circle cx="504.0" cy="143.9" r="0.6" fill="#5e4712"/>
<circle cx="464.4" cy="150.5" r="0.6" fill="#5e4712"/>
<circle cx="475.8" cy="154.5" r="0.6" fill="#5e4712"/>
<circle cx="489.0" cy="154.7" r="0.6" fill="#5e4712"/>
<circle cx="500.2" cy="151.4" r="0.6" fill="#5e4712"/>
<circle cx="469.9" cy="157.9" r="0.6" fill="#5e4712"/>
<circle cx="483.0" cy="159.8" r="0.6" fill="#5e4712"/>
<circle cx="494.9" cy="158.2" r="0.6" fill="#5e4712"/>
<circle cx="504.0" cy="153.5" r="0.6" fill="#5e4712"/>
<circle cx="464.4" cy="160.2" r="0.6" fill="#5e4712"/>
<circle cx="475.8" cy="164.1" r="0.6" fill="#5e4712"/>
<circle cx="489.0" cy="164.3" r="0.6" fill="#5e4712"/>
<circle cx="500.2" cy="161.0" r="0.6" fill="#5e4712"/>
<circle cx="469.9" cy="167.5" r="0.6" fill="#5e4712"/>
<circle cx="483.0" cy="169.5" r="0.6" fill="#5e4712"/>
<circle cx="494.9" cy="167.9" r="0.6" fill="#5e4712"/>
<circle cx="504.0" cy="163.2" r="0.6" fill="#5e4712"/>
<circle cx="464.4" cy="169.8" r="0.6" fill="#5e4712"/>
<circle cx="475.8" cy="173.7" r="0.6" fill="#5e4712"/>
<circle cx="489.0" cy="173.9" r="0.6" fill="#5e4712"/>
<circle cx="500.2" cy="170.6" r="0.6" fill="#5e4712"/>
<circle cx="469.9" cy="177.1" r="0.6" fill="#5e4712"/>
<circle cx="483.0" cy="179.1" r="0.6" fill="#5e4712"/>
<circle cx="494.9" cy="177.5" r="0.6" fill="#5e4712"/>
<circle cx="504.0" cy="172.8" r="0.6" fill="#5e4712"/>
<circle cx="464.4" cy="179.4" r="0.6" fill="#5e4712"/>
<circle cx="475.8" cy="183.4" r="0.6" fill="#5e4712"/>
<circle cx="489.0" cy="183.5" r="0.6" fill="#5e4712"/>
<circle cx="500.2" cy="180.3" r="0.6" fill="#5e4712"/>
<circle cx="469.9" cy="186.8" r="0.6" fill="#5e4712"/>
<circle cx="483.0" cy="188.7" r="0.6" fill="#5e4712"/>
<circle cx="494.9" cy="187.1" r="0.6" fill="#5e4712"/>
<circle cx="504.0" cy="182.4" r="0.6" fill="#5e4712"/>
<circle cx="464.4" cy="189.1" r="0.6" fill="#5e4712"/>
<circle cx="475.8" cy="193.0" r="0.6" fill="#5e4712"/>
<circle cx="489.0" cy="193.2" r="0.6" fill="#5e4712"/>
<circle cx="500.2" cy="189.9" r="0.6" fill="#5e4712"/>
<circle cx="469.9" cy="196.4" r="0.6" fill="#5e4712"/>
<circle cx="483.0" cy="198.4" r="0.6" fill="#5e4712"/>
<circle cx="494.9" cy="196.8" r="0.6" fill="#5e4712"/>
<circle cx="504.0" cy="192.1" r="0.6" fill="#5e4712"/>
<circle cx="464.4" cy="198.7" r="0.6" fill="#5e4712"/>
<circle cx="475.8" cy="202.6" r="0.6" fill="#5e4712"/>
<circle cx="489.0" cy="202.8" r="0.6" fill="#5e4712"/>
<circle cx="500.2" cy="199.5" r="0.6" fill="#5e4712"/>
<circle cx="469.9" cy="206.0" r="0.6" fill="#5e4712"/>
<circle cx="483.0" cy="208.0" r="0.6" fill="#5e4712"/>
<circle cx="494.9" cy="206.4" r="0.6" fill="#5e4712"/>
<circle cx="504.0" cy="201.7" r="0.6" fill="#5e4712"/>
<circle cx="464.4" cy="208.3" r="0.6" fill="#5e4712"/>
<circle cx="475.8" cy="212.3" r="0.6" fill="#5e4712"/>
<circle cx="489.0" cy="212.4" r="0.6" fill="#5e4712"/>
<circle cx="500.2" cy="209.1" r="0.6" fill="#5e4712"/>
<circle cx="469.9" cy="215.7" r="0.6" fill="#5e4712"/>
<circle cx="483.0" cy="217.6" r="0.6" fill="#5e4712"/>
<circle cx="494.9" cy="216.0" r="0.6" fill="#5e4712"/>
<circle cx="504.0" cy="211.3" r="0.6" fill="#5e4712"/>
<circle cx="464.4" cy="218.0" r="0.6" fill="#5e4712"/>
<circle cx="475.8" cy="221.9" r="0.6" fill="#5e4712"/>
<circle cx="489.0" cy="222.1" r="0.6" fill="#5e4712"/>
<circle cx="500.2" cy="218.8" r="0.6" fill="#5e4712"/>
<circle cx="469.9" cy="225.3" r="0.6" fill="#5e4712"/>
<circle cx="483.0" cy="227.3" r="0.6" fill="#5e4712"/>
<circle cx="494.9" cy="225.7" r="0.6" fill="#5e4712"/>
<circle cx="504.0" cy="221.0" r="0.6" fill="#5e4712"/>
<circle cx="464.4" cy="227.6" r="0.6" fill="#5e4712"/>
<circle cx="475.8" cy="231.5" r="0.6" fill="#5e4712"/>
<circle cx="489.0" cy="231.7" r="0.6" fill="#5e4712"/>
<circle cx="500.2" cy="228.4" r="0.6" fill="#5e4712"/>
<circle cx="469.9" cy="234.9" r="0.6" fill="#5e4712"/>
<circle cx="483.0" cy="236.9" r="0.6" fill="#5e4712"/>
<circle cx="494.9" cy="235.3" r="0.6" fill="#5e4712"/>
<circle cx="504.0" cy="230.6" r="0.6" fill="#5e4712"/>
<rect x="457" y="128" width="5.5" height="122" fill="#b98c22" opacity="0.55"/>
<rect x="502.500" y="128" width="7" height="122" fill="#c08f24" opacity="0.6"/>
<path d="M457.800 232.500C460 239.500 470 243 483.300 243C497 243 507 239.500 508.900 232.500" fill="none" stroke="#4e3d12" stroke-width="1"/>
<path d="M458.500 236C461 242 471 245 483.300 245C496 245 506 242 508.300 236" fill="none" stroke="#fbefae" stroke-width="1.6"/>
</g>
<path d="M461 129.500C460.300 134 459.900 138 459.900 142.500V231C458.600 232 458 233.500 458.200 235.500C459.400 242.500 470 246.500 483.300 246.500C497 246.500 507.400 242.500 508.500 235.500C508.600 233.500 507.600 232 506.100 231V142.500C506.100 138 505.800 134 505.500 129.500Z" fill="none" stroke="#4e3d12" stroke-width="1.5" stroke-linejoin="round"/>
<ellipse cx="483.2" cy="128.500" rx="22.300" ry="11.500" fill="#f4dc7c" stroke="#4e3d12" stroke-width="1.4"/>
<ellipse cx="483.2" cy="128.800" rx="20.600" ry="10.200" fill="#e9c552" stroke="#6e5418" stroke-width="0.8"/>
<clipPath id="bootin"><ellipse cx="483.2" cy="128.800" rx="20.600" ry="10.200"/></clipPath>
<g clip-path="url(#bootin)">
<path d="M462 117H478C475.500 122 475 130 477.500 138C470 137 463 133 462 128Z" fill="#6d541c"/>
<path d="M463 124C466 120.500 471 119 477 118.500" fill="none" stroke="#a9872e" stroke-width="1.5"/>
<path d="M478 117H505V141H477.500C475 130 475.500 122 478 117Z" fill="#f1d672"/>
<path d="M463 115.0A20.500 10 0 0 0 503.500 115.0" fill="none" stroke="#fdf4c2" stroke-width="1.6"/>
<path d="M463 113.5A20.500 10 0 0 0 503.500 113.5" fill="none" stroke="#94701e" stroke-width="0.8"/>
<path d="M463 119.0A20.500 10 0 0 0 503.500 119.0" fill="none" stroke="#fdf4c2" stroke-width="1.6"/>
<path d="M463 117.5A20.500 10 0 0 0 503.500 117.5" fill="none" stroke="#94701e" stroke-width="0.8"/>
<path d="M463 123.0A20.500 10 0 0 0 503.500 123.0" fill="none" stroke="#fdf4c2" stroke-width="1.6"/>
<path d="M463 121.5A20.500 10 0 0 0 503.500 121.5" fill="none" stroke="#94701e" stroke-width="0.8"/>
<path d="M463 127.0A20.500 10 0 0 0 503.500 127.0" fill="none" stroke="#fdf4c2" stroke-width="1.6"/>
<path d="M463 125.5A20.500 10 0 0 0 503.500 125.5" fill="none" stroke="#94701e" stroke-width="0.8"/>
<path d="M462 117H478C475.500 122 475 130 477.500 138C470 137 463 133 462 128Z" fill="#5f4815" opacity="0.75"/>
</g>
<circle cx="486.0" cy="120.3" r="0.6" fill="#4e3d12"/>
<circle cx="492.5" cy="121.3" r="0.6" fill="#4e3d12"/>
<circle cx="498.0" cy="123.5" r="0.6" fill="#4e3d12"/>
<circle cx="492.0" cy="126.0" r="0.6" fill="#4e3d12"/>
<circle cx="478.5" cy="136.5" r="0.6" fill="#4e3d12"/>
<circle cx="487.0" cy="137.0" r="0.6" fill="#4e3d12"/>
<circle cx="494.0" cy="135.0" r="0.6" fill="#4e3d12"/>
</g>

<!-- END P4 -->

<!-- PART 1 strut -->
<g id="p1">
<!-- side tube -->
<path class="ol" fill="url(#top)" d="M451.200 401.900L462 398L472 406L470.100 408.200L452.600 413.800Z"/>
<ellipse class="ol" cx="450.600" cy="407.900" rx="4.300" ry="6" fill="#d1dce7" transform="rotate(-15 450.600 407.900)"/>
<ellipse cx="450.400" cy="408.100" rx="2" ry="3" fill="#8ea3b6" stroke="#445464" stroke-width="0.6" transform="rotate(-15 450.400 408.100)"/>
<!-- lower body -->
<path class="ol" stroke-width="1.3" fill="url(#cyl2)" d="M468.600 396V502H498.600L498.200 396Z"/>
<rect x="469.600" y="420" width="8.200" height="12" fill="#8fa3b5" stroke="#5b6b7b" stroke-width="0.5"/>
<rect x="487.200" y="445" width="8.600" height="27.500" rx="4.300" ry="5" fill="#90a5b7" stroke="#4b5b6b" stroke-width="0.8"/>
<path class="ol" fill="#b5c6d5" d="M468.600 488.500C471 491 476 492.600 483.300 493.300V502H465.500V494.600H468.600Z"/>
<path class="thin" stroke="#4b5b6b" d="M469.500 494.600V502"/>
<!-- under-seat cone -->
<path class="ol" fill="#9db1c3" d="M498.300 404L514 402.500C512 406.500 507.500 409.500 503 411.300L498.400 413.500Z"/>
<path class="ol" fill="#a9bccb" d="M468.600 403L462.500 398.500L468.600 408Z"/>
<!-- spring seat -->
<g transform="rotate(-3.500 491 382)">
<ellipse class="ol" stroke-width="1.35" cx="491.300" cy="382.800" rx="41.800" ry="23.800" fill="url(#seatg)"/>
<ellipse cx="491.300" cy="383" rx="40" ry="22.200" fill="none" stroke="#61758a" stroke-width="0.7"/>
<ellipse class="ol" cx="489" cy="386.800" rx="28.500" ry="13.800" fill="#f2f6f9" stroke-width="1"/>
</g>
<!-- body below collar -->
<path fill="url(#cyl)" d="M468.700 374V395.500C475 400.500 492 401 497.400 397.500V374Z"/>
<path class="ol" fill="none" d="M468.700 378V395.500M497.400 378V397.500"/>
<path class="thin" stroke="#7d90a3" d="M468.700 395.500C475 400.500 492 401 497.400 397.500"/>
<!-- collar flange -->
<ellipse class="ol" stroke-width="1.2" cx="483.200" cy="376.300" rx="18.600" ry="7.600" fill="#dde6ee"/>
<!-- body above collar -->
<path fill="url(#cyl)" d="M468.700 341V374.500C474 379 492 379 497.400 374.500V341Z"/>
<path class="ol" fill="none" d="M468.700 341V374.500C474 379 492 379 497.400 374.500V341"/>
<ellipse cx="476.300" cy="374.300" rx="1.900" ry="1.400" fill="#7c91a5"/><ellipse cx="489.800" cy="374.300" rx="1.900" ry="1.400" fill="#7c91a5"/>
<!-- grooves -->
<path class="thin" stroke="#4b5b6b" stroke-width="0.9" d="M468.700 347.500C474 352 492 352 497.400 347.500M468.700 352.500C474 357 492 357 497.400 352.500"/>
<path class="thin" stroke="#8b9eb0" d="M468.700 350C474 354.500 492 354.500 497.400 350M468.700 358C474 362.500 492 362.500 497.400 358"/>
<!-- top cap -->
<ellipse class="ol" cx="483.050" cy="341" rx="14.900" ry="6" fill="#dce5ee"/>
<!-- rod collar -->
<path class="ol" fill="url(#cyl)" d="M476.100 331.500V343.500C477.500 346.200 489 346.200 490.400 343.500V331.500Z"/>
<!-- rod -->
<path class="ol" fill="url(#cyl)" d="M477.400 316V331.600C479 333.500 488 333.500 489.600 331.600V316Z"/>
<ellipse class="ol" cx="483.500" cy="316.200" rx="6.100" ry="2.200" fill="#e3ebf2" stroke-width="0.9"/>
</g>

<!-- axis bits visible inside holes -->
<g id="axbits" stroke="#9aa0a6" stroke-width="0.8" fill="none">
<path d="M302.900 160V168.500M303.400 197.500V208M303.800 268V297.500M304 333.500V344"/>
</g>

<!-- LABELS -->
<g id="labels">
<text x="253.500" y="43">9</text><path class="ld" d="M266 38.500H280"/>
<text x="361.500" y="76.500">10</text><path class="ld" d="M345.500 72H361"/>
<text x="270" y="181.300">8</text><path class="ld" d="M281 177H294"/>
<text x="238.600" y="227">7</text><path class="ld" d="M248.500 222.200H261.500"/>
<text x="240.800" y="302.800">6</text><path class="ld" d="M252.500 297.300H267.500"/>
<text x="263.300" y="370.500">5</text><path class="ld" d="M272.500 365.200H287.500"/>
<text x="532" y="52.700">2</text><path class="ld" d="M514.500 47.300H529.500"/>
<circle cx="530.800" cy="184.800" r="8.600" fill="url(#hl)"/>
<text x="526.300" y="189.600" style="font-size:13.800px;fill:#432c02;stroke:#432c02;stroke-width:0.35px">4</text><path class="ld" d="M507 184.600H523.500"/>
<text x="536.500" y="290">3</text><path class="ld" d="M518 285.200H534"/>
<text x="555" y="388.200">1</text><path class="ld" d="M536.500 382.800H552"/>
</g>

</g>
</svg>
</body>
</html>
